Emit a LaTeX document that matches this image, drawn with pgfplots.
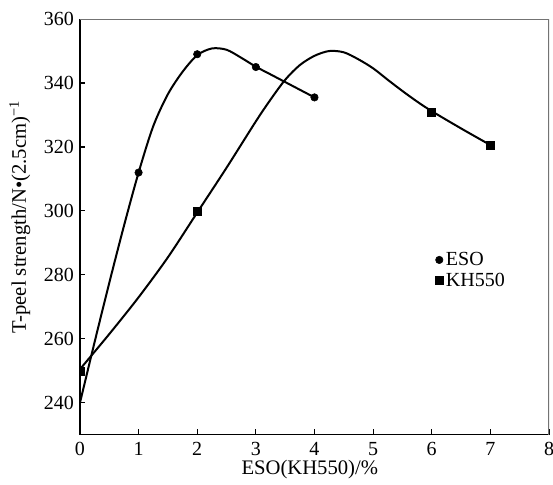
\documentclass[border=0pt]{standalone}
\usepackage{fontspec}
\setmainfont{Liberation Serif}
\usepackage{pgfplots}
\pgfplotsset{compat=1.18}

\begin{document}
\begin{tikzpicture}
\begin{axis}[
    scale only axis,
    width=352pt, height=312pt,
    xmin=0, xmax=8, ymin=230, ymax=360,
    xtick={0,1,...,8},
    ytick={240,260,...,360},
    axis lines*=left,
    axis line style={-, line width=1pt},
    tick align=inside,
    major tick length=4pt,
    tick style={line width=0.8pt, black},
    every tick label/.style={font=\fontsize{15}{17}\selectfont},
    xticklabel style={yshift=-2pt},
    yticklabel style={xshift=-1pt},
    /pgf/number format/assume math mode=true,
    xlabel={ESO(KH550)/\%},
    ylabel={T-peel strength/N•(2.5cm)\textsuperscript{−1}},
    xlabel style={font=\fontsize{15.5}{17}\selectfont,
        at={(axis description cs:0.49,-0.084)}, anchor=center},
    ylabel style={font=\fontsize{15.5}{17}\selectfont,
        at={(axis description cs:-0.128,0.524)}, anchor=center},
    clip marker paths=true,
    legend style={at={(0.757,0.446)}, anchor=north west, draw=none, fill=none,
        font=\fontsize{15}{17}\selectfont, row sep=0pt,
        inner xsep=0pt, inner ysep=0pt},
    legend cell align=left,
    legend image code/.code={\draw plot coordinates {(0.12cm,0cm)};},
]

% frame top and right (lighter)
\draw[black!55, line width=1pt] (rel axis cs:0,1) -- (rel axis cs:1,1) -- (rel axis cs:1,0);

% ESO curve
\addplot[black, line width=1.5pt, smooth, forget plot] coordinates {
    (0,240) (0.25,259) (0.5,277.5) (0.75,295.3) (1,312) (1.25,326.5)
    (1.5,336.5) (1.75,343.5) (2,348.7) (2.25,350.8) (2.5,350.4)
    (2.75,347.9) (3,345.1) (3.25,342.7) (3.5,340.3) (3.75,337.9) (4,335.5)
};
% KH550 curve
\addplot[black, line width=1.5pt, smooth, forget plot] coordinates {
    (0,250.5) (0.5,261.5) (1,273) (1.5,285.5) (2,299.5) (2.5,313.5)
    (3,328) (3.25,334.8) (3.5,341) (3.75,345.6) (4,348.5) (4.25,350)
    (4.5,349.6) (4.75,347.4) (5,344.6) (5.25,341) (5.5,337.5) (5.75,334.2)
    (6,331.2) (6.5,325.8) (7,320.6)
};

% measured points
\addplot[only marks, mark=*, mark size=2.8pt, black] coordinates {
    (1,312) (2,349) (3,345) (4,335.5)
};
\addplot[only marks, mark=square*, mark size=3pt, black] coordinates {
    (0,250) (2,300) (6,331) (7,320.6)
};
\legend{ESO, KH550}
\end{axis}
\pgfresetboundingbox
\path ([xshift=-60pt,yshift=-37pt]current axis.south west)
    rectangle ([xshift=3pt,yshift=14.3pt]current axis.north east);
\end{tikzpicture}
\end{document}
